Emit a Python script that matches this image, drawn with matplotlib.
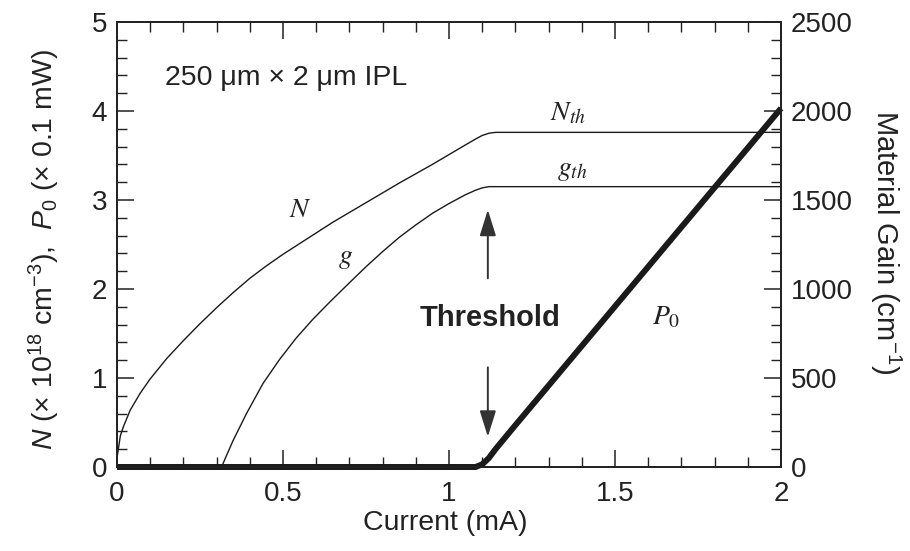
import matplotlib
matplotlib.use("Agg")
import matplotlib.pyplot as plt
from matplotlib.ticker import MultipleLocator, FixedLocator, FixedFormatter

plt.rcParams['font.family'] = ['Liberation Sans', 'DejaVu Sans']
plt.rcParams['mathtext.fontset'] = 'custom'
plt.rcParams['mathtext.rm'] = 'Liberation Sans'
plt.rcParams['mathtext.it'] = 'Liberation Sans:italic'
plt.rcParams['mathtext.bf'] = 'Liberation Sans:bold'

# ---- data ----
current_N = [0.0, 0.01, 0.02, 0.04, 0.07, 0.10, 0.15, 0.20, 0.25, 0.30, 0.35,
             0.40, 0.45, 0.50, 0.55, 0.60, 0.65, 0.70, 0.75, 0.80, 0.85, 0.90,
             0.95, 1.00, 1.05, 1.08, 1.10, 1.12, 1.14, 2.0]
carrier_N = [0.10, 0.35, 0.46, 0.64, 0.83, 0.99, 1.22, 1.42, 1.61, 1.79, 1.96,
             2.12, 2.26, 2.39, 2.51, 2.63, 2.75, 2.86, 2.97, 3.08, 3.19, 3.295,
             3.40, 3.51, 3.62, 3.685, 3.725, 3.75, 3.76, 3.76]

current_g = [0.315, 0.33, 0.35, 0.39, 0.44, 0.49, 0.54, 0.59, 0.64, 0.70,
             0.75, 0.80, 0.85, 0.90, 0.95, 1.00, 1.05, 1.08, 1.10, 1.12, 2.0]
gain_g = [0, 65, 150, 300, 470, 605, 725, 830, 925, 1035,
          1125, 1210, 1290, 1360, 1425, 1480, 1530, 1555, 1568, 1575, 1575]

current_P = [0.0, 1.08, 1.10, 1.12, 1.14, 1.20, 2.0]
power_P = [0.0, 0.0, 0.03, 0.10, 0.20, 0.47, 4.03]

xtick_vals = [0, 0.5, 1, 1.5, 2]
xtick_labels = ["0", "0.5", "1", "1.5", "2"]
ytick_vals = [0, 1, 2, 3, 4, 5]
ytick_labels = ["0", "1", "2", "3", "4", "5"]
y2tick_vals = [0, 500, 1000, 1500, 2000, 2500]
y2tick_labels = ["0", "500", "1000", "1500", "2000", "2500"]

# ---- figure ----
fig = plt.figure(figsize=(9.1, 5.51), dpi=100)
ax = fig.add_axes([117/910, 1-467/551, (781-117)/910, (467-22)/551])
ax2 = ax.twinx()

lc = '#1a1a1a'
ax.plot(current_N, carrier_N, color=lc, lw=1.0)
ax2.plot(current_g, gain_g, color=lc, lw=1.0)
ax.plot(current_P, power_P, color=lc, lw=4.3, clip_on=False,
        solid_capstyle='butt', zorder=5)

ax.set_xlim(0, 2)
ax.set_ylim(0, 5)
ax2.set_ylim(0, 2500)

tfs = 20
ax.xaxis.set_major_locator(FixedLocator(xtick_vals))
ax.xaxis.set_major_formatter(FixedFormatter(xtick_labels))
ax.xaxis.set_minor_locator(MultipleLocator(0.1))
ax.yaxis.set_major_locator(FixedLocator(ytick_vals))
ax.yaxis.set_major_formatter(FixedFormatter(ytick_labels))
ax.yaxis.set_minor_locator(MultipleLocator(0.2))
ax2.yaxis.set_major_locator(FixedLocator(y2tick_vals))
ax2.yaxis.set_major_formatter(FixedFormatter(y2tick_labels))
ax2.yaxis.set_minor_locator(MultipleLocator(100))

ax.tick_params(axis='x', which='both', direction='in', top=True, bottom=True,
               labelsize=tfs, pad=10, colors='#222')
ax.tick_params(axis='y', which='both', direction='in', left=True, right=False,
               labelsize=tfs, pad=7, colors='#222')
ax2.tick_params(axis='y', which='both', direction='in', left=False, right=True,
                labelsize=tfs, pad=7, colors='#222')
for a in (ax, ax2):
    a.tick_params(which='major', length=12, width=1.1)
    a.tick_params(which='minor', length=7, width=1.0)
    for s in a.spines.values():
        s.set_linewidth(1.3)
        s.set_color('#222')

# ---- annotations ----
ax.text(0.145, 4.37, "250 \u03bcm \u00d7 2 \u03bcm IPL", fontsize=20.5,
        ha='left', va='center', color='#222')
ax.text(0.551, 2.81, r"$N$", fontsize=20, ha='center', va='baseline',
        math_fontfamily='stix', color='#222')
ax.text(0.688, 2.29, r"$g$", fontsize=20, ha='center', va='baseline',
        math_fontfamily='stix', color='#222')
ax.text(1.304, 3.90, r"$N_{th}$", fontsize=20, ha='left', va='baseline',
        math_fontfamily='stix', color='#222')
ax.text(1.325, 3.28, r"$g_{th}$", fontsize=20, ha='left', va='baseline',
        math_fontfamily='stix', color='#222')
ax.text(1.611, 1.60, r"$P_0$", fontsize=20, ha='left', va='baseline',
        math_fontfamily='stix', color='#222')
ax.text(1.125, 1.67, "Threshold", fontsize=21, fontweight='bold',
        ha='center', va='center', color='#222')

arrow_kw = dict(arrowstyle="-|>,head_length=0.8,head_width=0.25",
                mutation_scale=20, lw=1.4, color='#333',
                shrinkA=0, shrinkB=0)
ax.annotate("", xy=(1.117, 2.89), xytext=(1.117, 2.12), arrowprops=arrow_kw)
ax.annotate("", xy=(1.117, 0.34), xytext=(1.117, 1.12), arrowprops=arrow_kw)

# ---- axis labels ----
fig.text(445/910, 1-523/551, "Current (mA)", fontsize=20.5, ha='center',
         va='center', color='#222')
fig.text(44/910, 1-249/551,
         "$N$ (\u00d7 10$^{18}$ cm$^{-3}$),  $P_0$ (\u00d7 0.1 mW)",
         fontsize=20.5, rotation=90, ha='center', va='center', color='#222')
fig.text(886/910, 1-242/551, "Material Gain (cm$^{-1}$)", fontsize=21,
         rotation=270, ha='center', va='center', color='#222')

fig.savefig("out.png", dpi=100)
